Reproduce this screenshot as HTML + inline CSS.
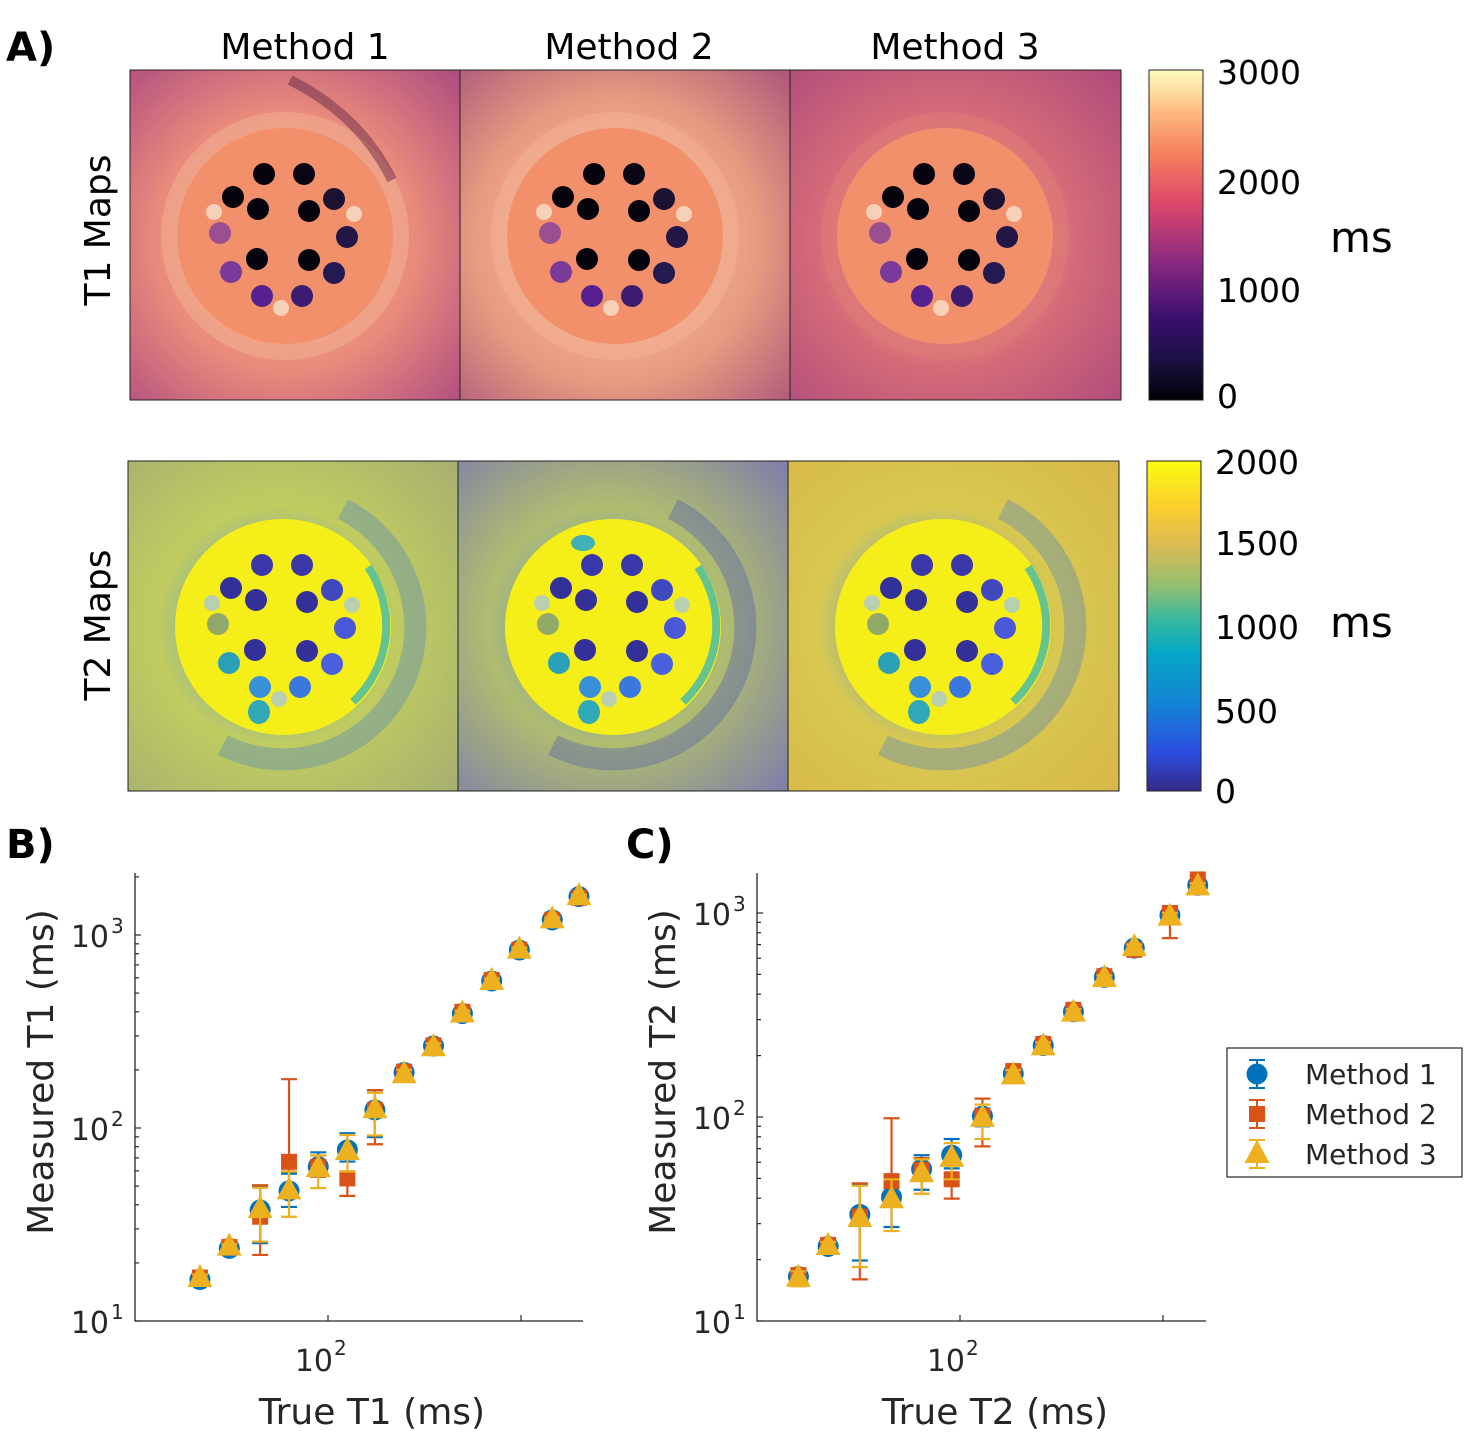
<!DOCTYPE html>
<html><head><meta charset="utf-8"><style>
html,body{margin:0;padding:0;background:#fff;}
svg{display:block;font-family:"DejaVu Sans","Liberation Sans",sans-serif;}
</style></head><body>
<svg id="fig" width="1481" height="1455" viewBox="0 0 1481 1455" xmlns="http://www.w3.org/2000/svg">
<defs>
<linearGradient id="magma" x1="0" y1="1" x2="0" y2="0">
<stop offset="0" stop-color="#000004"/><stop offset="0.12" stop-color="#1c1044"/><stop offset="0.25" stop-color="#3b0f70"/><stop offset="0.42" stop-color="#8c2981"/><stop offset="0.6" stop-color="#de4968"/><stop offset="0.75" stop-color="#f6805f"/><stop offset="0.87" stop-color="#feb87e"/><stop offset="1" stop-color="#fcfdbf"/>
</linearGradient>
<linearGradient id="parula" x1="0" y1="1" x2="0" y2="0">
<stop offset="0" stop-color="#352a87"/><stop offset="0.12" stop-color="#2b4fe0"/><stop offset="0.27" stop-color="#1485d4"/><stop offset="0.42" stop-color="#06a7c6"/><stop offset="0.52" stop-color="#38b99e"/><stop offset="0.62" stop-color="#92bf73"/><stop offset="0.74" stop-color="#d9ba56"/><stop offset="0.86" stop-color="#fcce2e"/><stop offset="1" stop-color="#f9fb0e"/>
</linearGradient>
<radialGradient id="t1bg1" cx="0.47" cy="0.52" r="0.72"><stop offset="0.3" stop-color="#f0a080"/><stop offset="0.55" stop-color="#e88a7c"/><stop offset="1" stop-color="#b04e80"/></radialGradient>
<radialGradient id="t1bg2" cx="0.47" cy="0.52" r="0.72"><stop offset="0.3" stop-color="#f4b090"/><stop offset="0.6" stop-color="#e89a80"/><stop offset="1" stop-color="#b05a7c"/></radialGradient>
<radialGradient id="t1bg3" cx="0.47" cy="0.52" r="0.72"><stop offset="0.3" stop-color="#e8887a"/><stop offset="0.55" stop-color="#d46a78"/><stop offset="1" stop-color="#b04c7c"/></radialGradient>
<radialGradient id="t2bg1" cx="0.45" cy="0.5" r="0.72"><stop offset="0.3" stop-color="#8ab0a0"/><stop offset="0.5" stop-color="#c0cc60"/><stop offset="1" stop-color="#a8b070"/></radialGradient>
<radialGradient id="t2bg2" cx="0.45" cy="0.5" r="0.72"><stop offset="0.3" stop-color="#8aa8a0"/><stop offset="0.5" stop-color="#b0bc70"/><stop offset="1" stop-color="#8080a8"/></radialGradient>
<radialGradient id="t2bg3" cx="0.45" cy="0.5" r="0.72"><stop offset="0.3" stop-color="#90b0a0"/><stop offset="0.5" stop-color="#d8c850"/><stop offset="1" stop-color="#d8b84a"/></radialGradient>
</defs>
<g id="maps"></g>
<g id="charts"></g>
</svg>
<script>
// ---- phantom vial layout (offsets in px from phantom centre) ----
const vialDX = [-21,19,-52,49,-27,24,-65,62,-28,24,-54,49,-23,17];
const vialDY = [-62,-62,-39,-37,-27,-25,-3,1,23,24,36,37,60,60];
const t1VialColors = ['#06030f','#0a0616','#05030c','#1a1230','#05030c','#05030c','#9a5090','#221646','#05030c','#05030c','#7a3a9a','#241a52','#562090','#3c1c72'];
const t2VialColors = ['#3a38a8','#3a38a8','#34309a','#4048c0','#34309a','#34309a','#90a868','#4a58d8','#34309a','#34309a','#2aa0b8','#4a60e0','#3a90d8','#3a78e0'];
const smallDX = [-71,69,-4];
const smallDY = [-24,-22,72];

const NS = 'http://www.w3.org/2000/svg';
function mk(tag, attrs, parent){const e=document.createElementNS(NS,tag);for(const k in attrs)e.setAttribute(k,attrs[k]);parent.appendChild(e);return e;}
function tx(str, x, y, size, parent, anchor, extra){const e=mk('text',Object.assign({x:x,y:y,'font-size':size,'text-anchor':anchor||'start',fill:'#000'},extra||{}),parent);e.textContent=str;return e;}

const maps = document.getElementById('maps');
const panelX = [130,460,790];
const rows = [{y:70,h:330,kind:'t1'},{y:461,h:330,kind:'t2'}];
rows.forEach((row,ri)=>{
  panelX.forEach((px,pi)=>{
    const g = mk('g',{},maps);
    
    
    const x0 = px - (ri===1?2:0);
    mk('rect',{x:x0,y:row.y,width:331,height:row.h,fill:'url(#'+row.kind+'bg'+(pi+1)+')'},g);
    const cx = x0+155, cy = row.y+166;
    if(row.kind==='t1'){
      mk('circle',{cx:cx,cy:cy,r:124,fill:pi===2?'#e07c78':'#f4b294',opacity:0.5},g);
      if(pi===0){mk('path',{d:`M${x0+160} ${row.y+10} Q${x0+230} ${row.y+45} ${x0+262} ${row.y+110}`,stroke:'#5a2040',fill:'none','stroke-width':10,opacity:0.45},g);}
      mk('circle',{cx:cx,cy:cy,r:108,fill:'#f3906c'},g);
    } else {
      mk('path',{d:`M${cx+60} ${cy-118} A132 132 0 0 1 ${cx-60} ${cy+118}`,stroke:pi===1?'#4a52b8':'#4a80c8',fill:'none','stroke-width':22,opacity:0.35},g);
      mk('circle',{cx:cx,cy:cy,r:108,fill:'#f6ee18'},g);
      mk('path',{d:`M${cx+85} ${cy-60} A104 104 0 0 1 ${cx+70} ${cy+75}`,stroke:'#40b8b0',fill:'none','stroke-width':8,opacity:0.8},g);
      mk('ellipse',{cx:cx-24,cy:cy+85,rx:11,ry:12,fill:'#30a8b8'},g);
      if(pi===1) mk('ellipse',{cx:cx-30,cy:cy-84,rx:12,ry:8,fill:'#40b0b8'},g);
    }
    const cols = row.kind==='t1'?t1VialColors:t2VialColors;
    for(let i=0;i<vialDX.length;i++){
      const c = mk('circle',{cx:cx+vialDX[i],cy:cy+vialDY[i],r:11,fill:cols[i]},g);
      
      
    }
    for(let i=0;i<smallDX.length;i++){
      mk('circle',{cx:cx+smallDX[i],cy:cy+smallDY[i],r:8,fill:row.kind==='t1'?'#f6d0b8':'#b8d0b0'},g);
    }
    mk('rect',{x:x0,y:row.y,width:331,height:row.h,fill:'none',stroke:'#222','stroke-width':1},g);
  });
});

// titles
const titles = ['Method 1','Method 2','Method 3'];
const titleX = [305,629,955];
titles.forEach((t,i)=>{const e=tx(t,titleX[i],59,36,maps,'middle');});
let e;
e=tx('A)',6,61,40,maps,'start',{'font-weight':'bold'});
e=tx('T1 Maps',0,0,36,maps,'middle',{transform:'translate(110,230) rotate(-90)'});
e=tx('T2 Maps',0,0,36,maps,'middle',{transform:'translate(110,625) rotate(-90)'});

// colorbars
const cb1 = mk('g',{},maps);


mk('rect',{x:1149,y:70,width:54,height:330,fill:'url(#magma)',stroke:'#222','stroke-width':1},cb1);
const cb1Ticks=['3000','2000','1000','0'];
const cb1Y=[84,194,302,408];
cb1Ticks.forEach((t,i)=>tx(t,1217,cb1Y[i],33,cb1));
tx('ms',1330,252,42,cb1);
const cb2 = mk('g',{},maps);


mk('rect',{x:1147,y:461,width:54,height:330,fill:'url(#parula)',stroke:'#222','stroke-width':1},cb2);
const cb2Ticks=['2000','1500','1000','500','0'];
const cb2Y=[474,555,639,723,803];
cb2Ticks.forEach((t,i)=>tx(t,1215,cb2Y[i],33,cb2));
tx('ms',1330,637,42,cb2);

// ---------------- chart data ----------------
const trueT1 = [21.7,30.8,44.5,62.8,89,126,175,248,352,497,705,980,1452,1997];
const m1T1 = [16.4,23.8,37.6,47.2,63,77,124,194,266,392,578,836,1197,1581];
const m2T1 = [16.8,24.2,34.7,66.8,63,54.8,124,196,268,400,585,840,1200,1560];
const m3T1 = [16.7,24.3,38,47.5,62,76,125,190,262,392,578,840,1205,1590];
const m1T1lo = [15.8,23,25.3,39,56,67,89.6,185,255,378,560,815,1170,1550];
const m1T1hi = [17.2,24.6,50,58,74.8,94,157,205,280,410,595,860,1230,1620];
const m2T1lo = [16,23.3,22,59.5,56,44.5,82.4,185,252,380,565,815,1175,1520];
const m2T1hi = [17.6,25,50.5,179,72,59.5,157,210,282,415,605,865,1225,1600];
const m3T1lo = [16,23.5,25.8,34.7,48.8,59.5,91.5,180,250,380,560,820,1180,1560];
const m3T1hi = [17.4,25,49,59.5,72,92,152,200,275,405,595,860,1230,1620];

const trueT2 = [16,22.4,32.1,46,64.7,91,129,183,257,362,514,722,1082,1483];
const m1T2 = [16.5,23.2,33.3,40.5,55.5,65,101,163,224,328,484,673,975,1368];
const m2T2 = [16.8,23.6,32.5,48.5,55,49.5,101,168,228,335,490,660,1000,1460];
const m3T2 = [16.3,23.3,32,39.5,53,63,99,160,222,325,480,680,960,1350];
const m1T2lo = [15.6,22.3,19.8,28.9,44,56,90,155,215,315,470,650,930,1320];
const m1T2hi = [17.5,24.2,46.8,51,65,78,110,172,233,340,500,695,1010,1420];
const m2T2lo = [16,22.5,16,45,42,39.8,71.8,158,218,322,470,640,753,1400];
const m2T2hi = [17.6,24.6,47.3,98.6,63,51,123,178,238,348,505,680,1030,1520];
const m3T2lo = [14.8,22.3,18.4,27.6,42,49.5,78,150,212,315,465,660,920,1310];
const m3T2hi = [17.5,24.4,46,49.5,62,74.5,115,170,232,338,495,700,1000,1400];

const seriesNames = ['Method 1','Method 2','Method 3'];
const seriesColors = ['#0072BD','#D95319','#EDB120'];
const yTickExp = [1,2,3];
const xTickExp = [2];

const charts = document.getElementById('charts');

function marker(kind, x, y, color, parent){
  let m;
  if(kind===0) m=mk('circle',{cx:x,cy:y,r:10.5,fill:color},parent);
  else if(kind===1) m=mk('rect',{x:x-8,y:y-8,width:16,height:16,fill:color},parent);
  else m=mk('polygon',{points:`${x},${y-14} ${x+12.5},${y+9} ${x-12.5},${y+9}`,fill:color},parent);
  return m;
}

function drawChart(opt){
  const g = mk('g',{},charts);
  
  
  const xs = v => opt.x0 + (Math.log10(v)-1)*opt.decX;
  const ys = v => opt.y0 - (Math.log10(v)-1)*opt.decY;
  const ax = mk('path',{d:`M${opt.x0} ${opt.top} L${opt.x0} ${opt.y0} L${opt.right} ${opt.y0}`,stroke:'#262626',fill:'none','stroke-width':1.3},g);
  
  
  for(let d=1; d<=3; d++){
    for(let k=1;k<=9;k++){
      const v=k*Math.pow(10,d);
      const yy=ys(v);
      if(yy<opt.top-1) continue;
      mk('line',{x1:opt.x0,y1:yy,x2:opt.x0+(k===1?6:4),y2:yy,stroke:'#262626','stroke-width':1.2},g);
    }
  }
  yTickExp.forEach(p=>{
    const yy=ys(Math.pow(10,p));
    const t=mk('text',{x:opt.x0-26,y:yy+12,'font-size':30,'text-anchor':'end',fill:'#262626'},g);
    t.textContent='10';
    const s=mk('text',{x:opt.x0-24,y:yy-2,'font-size':20,'text-anchor':'start',fill:'#262626'},g);
    s.textContent=String(p);
    
    
  });
  [2,3].forEach(p=>{
    const xx=xs(Math.pow(10,p));
    mk('line',{x1:xx,y1:opt.y0,x2:xx,y2:opt.y0-6,stroke:'#262626','stroke-width':1.2},g);
  });
  xTickExp.forEach(p=>{
    const xx=xs(Math.pow(10,p));
    const t=mk('text',{x:xx+5,y:opt.y0+50,'font-size':30,'text-anchor':'end',fill:'#262626'},g);
    t.textContent='10';
    const s=mk('text',{x:xx+6,y:opt.y0+34,'font-size':20,fill:'#262626'},g);
    s.textContent=String(p);
    
    
  });
  const xt=tx(opt.xlabel,opt.xlabelX,opt.y0+103,36,g,'middle',{fill:'#262626'});
  
  
  const yt=tx(opt.ylabel,0,0,36,g,'middle',{fill:'#262626',transform:`translate(${opt.ylabelX},1072) rotate(-90)`});
  
  
  opt.series.forEach((s,si)=>{
    const sg=mk('g',{},g);
    
    
    for(let i=0;i<opt.xv.length;i++){
      const xx=xs(opt.xv[i]), y1=ys(s.lo[i]), y2=ys(s.hi[i]);
      mk('path',{d:`M${xx} ${y1} L${xx} ${y2} M${xx-8} ${y1} L${xx+8} ${y1} M${xx-8} ${y2} L${xx+8} ${y2}`,stroke:seriesColors[si],'stroke-width':2.2,fill:'none'},sg);
    }
    for(let i=0;i<opt.xv.length;i++){
      const m=marker(si,xs(opt.xv[i]),ys(s.v[i]),seriesColors[si],sg);
      
      
    }
  });
}

drawChart({name:'t1-scatter-chart',x0:135,y0:1321,decX:193,decY:193,top:873,right:583,
  xlabel:'True T1 (ms)',xlabelX:372,ylabel:'Measured T1 (ms)',ylabelX:53,xv:trueT1,
  series:[{v:m1T1,lo:m1T1lo,hi:m1T1hi},{v:m2T1,lo:m2T1lo,hi:m2T1hi},{v:m3T1,lo:m3T1lo,hi:m3T1hi}]});
drawChart({name:'t2-scatter-chart',x0:757,y0:1321,decX:203,decY:204,top:873,right:1206,
  xlabel:'True T2 (ms)',xlabelX:995,ylabel:'Measured T2 (ms)',ylabelX:675,xv:trueT2,
  series:[{v:m1T2,lo:m1T2lo,hi:m1T2hi},{v:m2T2,lo:m2T2lo,hi:m2T2hi},{v:m3T2,lo:m3T2lo,hi:m3T2hi}]});

e=tx('B)',6,858,40,charts,'start',{'font-weight':'bold'});
e=tx('C)',626,858,40,charts,'start',{'font-weight':'bold'});

const lg=mk('g',{},charts);


mk('rect',{x:1227,y:1048,width:235,height:129,fill:'#fff',stroke:'#262626','stroke-width':1.2},lg);
const legY=[1074,1114,1154];
seriesNames.forEach((n,i)=>{
  const eg=mk('g',{},lg);
  
  
  mk('path',{d:`M1257 ${legY[i]-14} L1257 ${legY[i]+14} M1249 ${legY[i]-14} L1265 ${legY[i]-14} M1249 ${legY[i]+14} L1265 ${legY[i]+14}`,stroke:seriesColors[i],'stroke-width':2,fill:'none'},eg);
  marker(i,1257,legY[i],seriesColors[i],eg);
  tx(n,1305,legY[i]+10,28,eg,'start',{fill:'#262626'});
});
</script>
</body></html>
